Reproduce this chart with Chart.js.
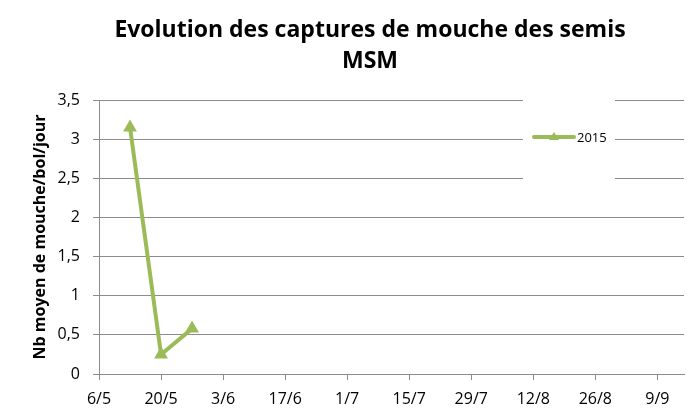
<!DOCTYPE html>
<html>
<head>
<meta charset="utf-8">
<script src="https://cdn.jsdelivr.net/npm/chart.js@4"></script>
<style>
  html, body { margin: 0; padding: 0; background: #fff; }
  #wrap { width: 692px; height: 408px; }
</style>
</head>
<body>
<div id="wrap"><canvas id="chart"></canvas></div>
<script>
// --- Data ---
const sampleDates = ["13/5", "20/5", "27/5"];
const captures2015 = [3.15, 0.25, 0.58];
const xTickLabels = ["6/5", "20/5", "3/6", "17/6", "1/7", "15/7", "29/7", "12/8", "26/8", "9/9"];
const xAxisEnd = "15/9";
const yTicks = [0, 0.5, 1, 1.5, 2, 2.5, 3, 3.5];

const GREEN = "#9BBB59";
const GRID = "#8c8c8c";
const FONT = "'Open Sans', sans-serif";

// jour/mois -> nb de jours depuis le 1er tick
function dayOf(s) {
  const [d, m] = s.split("/").map(Number);
  return Date.UTC(2015, m - 1, d) / 86400000;
}
const origin = dayOf(xTickLabels[0]);
const xPos = s => dayOf(s) - origin;

const points = sampleDates.map((d, i) => ({ x: xPos(d), y: captures2015[i] }));

// --- Titre + légende dessinés à la main ---
const decor = {
  id: "decor",
  beforeDatasetsDraw(chart) {
    const ctx = chart.ctx;
    ctx.save();
    ctx.fillStyle = "#fff";
    ctx.fillRect(523, 92, 92, 92);
    ctx.restore();
  },
  afterDraw(chart) {
    const ctx = chart.ctx;
    ctx.save();
    ctx.fillStyle = "#000";
    ctx.textAlign = "center";
    ctx.textBaseline = "middle";
    ctx.font = "bold 23px " + FONT;
    ctx.fillText("Evolution des captures de mouche des semis", 370, 30);
    ctx.fillText("MSM", 370, 61);

    // legende
    ctx.strokeStyle = GREEN;
    ctx.lineWidth = 4;
    ctx.lineCap = "round";
    ctx.beginPath();
    ctx.moveTo(534, 137);
    ctx.lineTo(574, 137);
    ctx.stroke();
    ctx.fillStyle = GREEN;
    ctx.beginPath();
    ctx.moveTo(554, 132);
    ctx.lineTo(559, 140);
    ctx.lineTo(549, 140);
    ctx.closePath();
    ctx.fill();
    ctx.fillStyle = "#000";
    ctx.textAlign = "left";
    ctx.font = "13px " + FONT;
    ctx.fillText("2015", 577, 138);
    ctx.restore();
  }
};

const ctx = document.getElementById("chart").getContext("2d");
new Chart(ctx, {
  type: "line",
  data: {
    datasets: [{
      label: "2015",
      data: points,
      borderColor: GREEN,
      backgroundColor: GREEN,
      borderWidth: 4,
      pointStyle: "triangle",
      pointRadius: 8,
      pointHoverRadius: 8,
      pointBorderWidth: 0,
      tension: 0,
      clip: false
    }]
  },
  options: {
    responsive: true,
    maintainAspectRatio: false,
    animation: false,
    layout: { padding: { left: 0, top: 100, right: 7, bottom: 0 } },
    plugins: {
      legend: { display: false },
      title: { display: false },
      tooltip: { enabled: false }
    },
    scales: {
      x: {
        type: "linear",
        min: 0,
        max: xPos(xAxisEnd),
        afterBuildTicks: scale => {
          scale.ticks = xTickLabels.map(s => ({ value: xPos(s) }));
        },
        afterFit: scale => { scale.height = 34; },
        grid: { drawOnChartArea: false, drawTicks: true, tickLength: 6, color: GRID },
        border: { color: GRID },
        ticks: {
          color: "#000",
          font: { family: FONT, size: 16 },
          padding: 10,
          maxRotation: 0,
          autoSkip: false,
          callback: v => xTickLabels[xTickLabels.map(xPos).indexOf(v)] ?? ""
        }
      },
      y: {
        min: 0,
        max: 3.5,
        afterBuildTicks: scale => {
          scale.ticks = yTicks.map(v => ({ value: v }));
        },
        afterFit: scale => { scale.width = 99; },
        grid: { color: GRID, tickLength: 6 },
        border: { color: GRID },
        ticks: {
          color: "#000",
          font: { family: FONT, size: 16 },
          padding: 13,
          callback: v => String(v).replace(".", ",")
        },
        title: {
          display: true,
          text: "Nb moyen de mouche/bol/jour",
          color: "#000",
          font: { family: FONT, size: 16, weight: "bold" },
          padding: { top: 31, bottom: 0 }
        }
      }
    }
  },
  plugins: [decor]
});
</script>
</body>
</html>
